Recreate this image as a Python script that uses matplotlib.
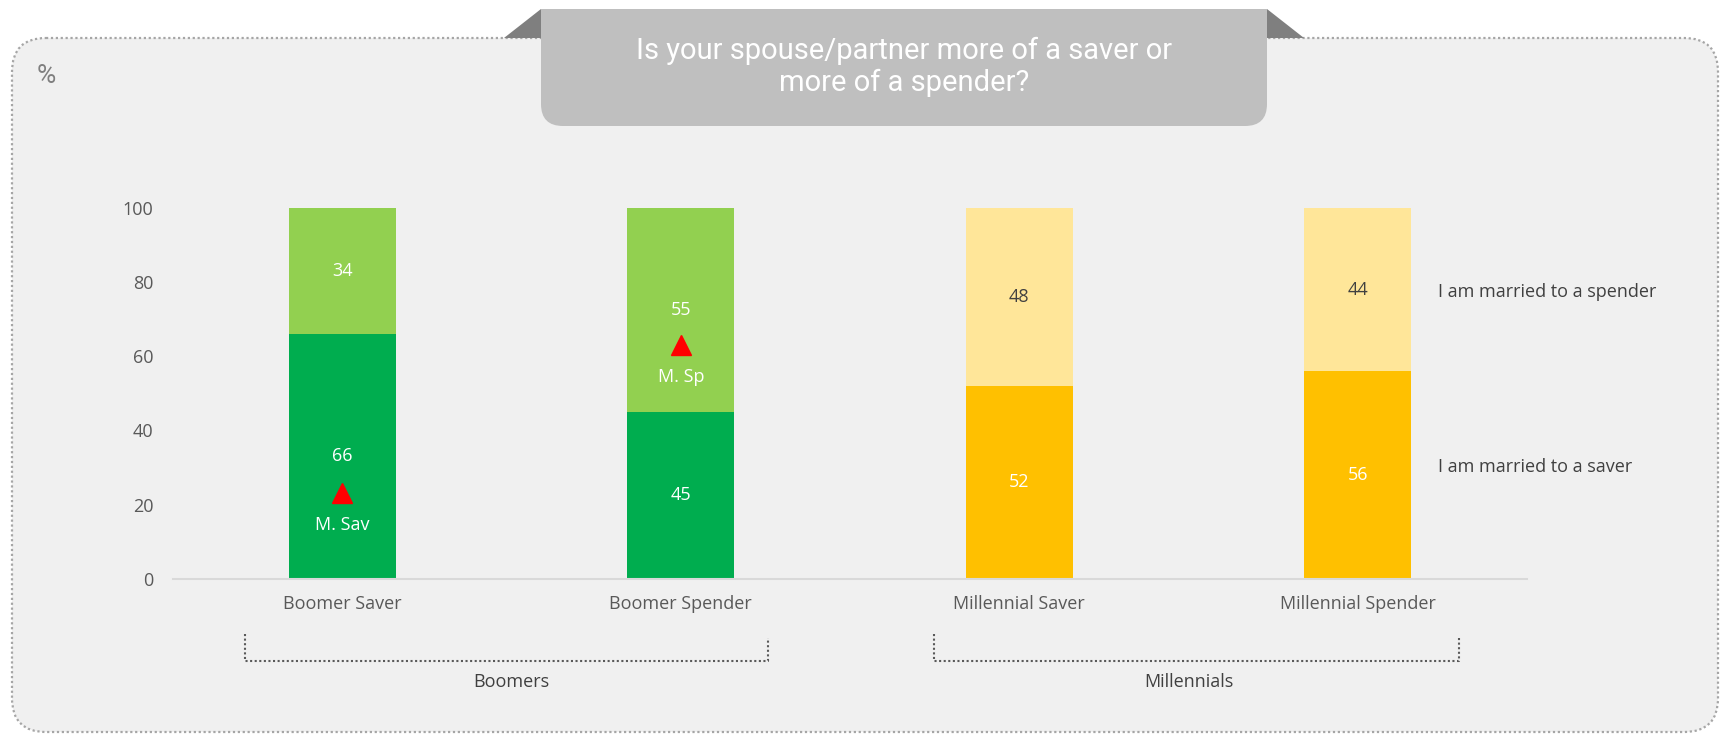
import matplotlib

matplotlib.use("Agg")
import matplotlib.pyplot as plt  # noqa: E402
from matplotlib.patches import FancyBboxPatch, Polygon, Rectangle  # noqa: E402

plt.rcParams.update({
    "font.family": ["Open Sans", "DejaVu Sans"],
    "figure.dpi": 100, "savefig.dpi": 100,
})

DARK_GREEN, LIGHT_GREEN = "#00AD4F", "#92D050"
ORANGE, PALE_YELLOW = "#FFC000", "#FFE699"
GRAY_TXT, DARK_TXT = "#595959", "#404040"
FS = 13

# survey data (%)
categories = ["Boomer Saver", "Boomer Spender", "Millennial Saver", "Millennial Spender"]
saver = [66, 45, 52, 56]      # "I am married to a saver"
spender = [34, 55, 48, 44]    # "I am married to a spender"
series_labels = ["I am married to a saver", "I am married to a spender"]
groups = ["Boomers", "Millennials"]
group_members = [(0, 1), (2, 3)]
# millennial benchmarks shown on the boomer bars
bench_cats = [0, 1]
bench_vals = [23, 63]
bench_labels = ["M. Sav", "M. Sp"]

W, H = 1725, 738
fig = plt.figure(figsize=(W / 100, H / 100), facecolor="white")

# pixel-space layer for the panel and the title tab
bg = fig.add_axes([0, 0, 1, 1], zorder=0)
bg.set_xlim(0, W)
bg.set_ylim(H, 0)
bg.axis("off")
bg.add_patch(FancyBboxPatch((12, 38), 1706, 694,
                            boxstyle="round,pad=0,rounding_size=34",
                            facecolor="#F0F0F0", edgecolor="#A6A6A6",
                            linewidth=1.6, linestyle=(0, (1, 1.2))))
bg.add_patch(Polygon([(504, 38), (541, 9), (541, 38)], closed=True,
                     facecolor="#7F7F7F", edgecolor="none"))
bg.add_patch(Polygon([(1267, 9), (1304, 38), (1267, 38)], closed=True,
                     facecolor="#7F7F7F", edgecolor="none"))
bg.add_patch(FancyBboxPatch((541, 9), 726, 117,
                            boxstyle="round,pad=0,rounding_size=22",
                            facecolor="#BFBFBF", edgecolor="none"))
bg.add_patch(Rectangle((541, 9), 726, 50, facecolor="#BFBFBF", edgecolor="none"))
bg.text(904, 67, "Is your spouse/partner more of a saver or\nmore of a spender?",
        ha="center", va="center", color="white", fontsize=21, linespacing=1.15,
        family=["Roboto", "DejaVu Sans"])
bg.text(37, 76, "%", ha="left", va="center", color="#7F7F7F", fontsize=19,
        family=["Roboto", "DejaVu Sans"])

# main chart
ax = fig.add_axes([173 / W, (H - 578.7) / H, 1354 / W, 370.7 / H], zorder=1)
ax.set_facecolor("none")
x = list(range(len(categories)))
bottom_colors = [DARK_GREEN, DARK_GREEN, ORANGE, ORANGE]
top_colors = [LIGHT_GREEN, LIGHT_GREEN, PALE_YELLOW, PALE_YELLOW]
top_txt = ["white", "white", DARK_TXT, DARK_TXT]
bw = 0.315
ax.bar(x, saver, width=bw, color=bottom_colors, linewidth=0)
ax.bar(x, spender, width=bw, bottom=saver, color=top_colors, linewidth=0)

for i in x:
    ax.text(i, saver[i] / 2, str(saver[i]), ha="center", va="center",
            color="white", fontsize=FS)
    ax.text(i, saver[i] + spender[i] / 2, str(spender[i]), ha="center", va="center",
            color=top_txt[i], fontsize=FS)

# benchmark triangles with their tags underneath
for c, v, lab in zip(bench_cats, bench_vals, bench_labels):
    ax.plot(c, v, marker="^", markersize=15, color="#FF0000", linestyle="none", zorder=3)
    ax.text(c, v - 8.5, lab, ha="center", va="center", color="white", fontsize=FS)

ax.set_xlim(-0.5, 3.5)
ax.set_ylim(0, 100)
ax.set_yticks([0, 20, 40, 60, 80, 100])
ax.tick_params(axis="y", length=0, pad=14, labelsize=FS, labelcolor=GRAY_TXT)
ax.set_xticks(x)
ax.set_xticklabels(categories)
ax.tick_params(axis="x", length=0, pad=12, labelsize=FS, labelcolor=GRAY_TXT)
for s in ["top", "right", "left"]:
    ax.spines[s].set_visible(False)
ax.spines["bottom"].set_color("#D9D9D9")
ax.spines["bottom"].set_linewidth(1.5)

# series names on the right
lx = 1.0 + (1438 - 1527) / 1354
ax.text(lx, 0.774, series_labels[1], transform=ax.transAxes,
        ha="left", va="center", color=DARK_TXT, fontsize=FS)
ax.text(lx, 0.302, series_labels[0], transform=ax.transAxes,
        ha="left", va="center", color=DARK_TXT, fontsize=FS)

# group brackets
bt = ax.get_xaxis_transform()
bracket_pad = [(0.287, 0.258), (0.252, 0.299)]
for name, (a, b), (pl, pr) in zip(groups, group_members, bracket_pad):
    x0, x1 = a - pl, b + pr
    ax.plot([x0, x0, x1, x1], [-0.150, -0.222, -0.222, -0.16], transform=bt,
            color="#595959", linewidth=1.5, linestyle=(0, (1, 1.2)), clip_on=False)
    ax.text((a + b) / 2, -0.279, name, transform=bt, ha="center", va="center",
            color=DARK_TXT, fontsize=FS)

fig.savefig("out.png", facecolor="white")
